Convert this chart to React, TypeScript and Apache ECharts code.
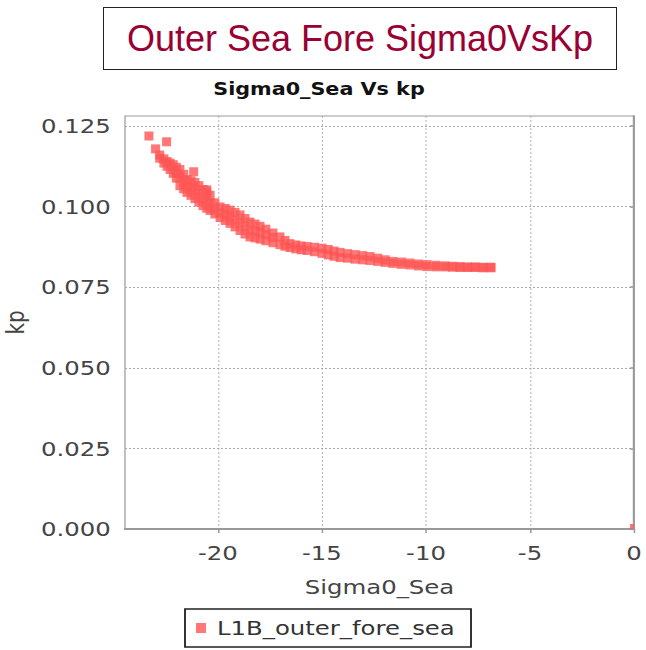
import React, { useEffect, useRef } from "react";
import * as echarts from "echarts";

const chartTitle = "Outer Sea Fore Sigma0VsKp";
const plotTitle = "Sigma0_Sea Vs kp";
const seriesName = "L1B_outer_fore_sea";
const xAxisName = "Sigma0_Sea";
const yAxisName = "kp";

const xTicks = [-20, -15, -10, -5, 0];
const yTicks = [0, 0.025, 0.05, 0.075, 0.1, 0.125];

// band columns (Sigma0_Sea) with upper / middle / lower kp rows
const bandSigma0 = [-23.0, -22.8, -22.6, -22.45, -22.3, -22.15, -22.0, -21.83, -21.65, -21.49, -21.3, -21.11, -20.92, -20.72, -20.54, -20.38, -20.15, -19.9, -19.65, -19.42, -19.18, -18.94, -18.7, -18.46, -18.22, -17.98, -17.7, -17.36, -17.02, -16.78, -16.54, -16.26, -16.0, -15.72, -15.36, -15.0, -14.7, -14.42, -14.13, -13.77, -13.41, -13.05, -12.69, -12.32, -11.96, -11.59, -11.18, -10.77, -10.36, -9.95, -9.52, -9.09, -8.73, -8.37, -8.0, -7.64, -7.26, -6.88];
const bandKpUpper = [0.1179, 0.116, 0.1148, 0.114, 0.1135, 0.113, 0.1122, 0.1115, 0.11, 0.1084, 0.108, 0.1075, 0.1065, 0.1053, 0.1045, 0.1035, 0.1012, 0.0999, 0.0994, 0.0989, 0.0982, 0.0974, 0.0963, 0.0952, 0.0946, 0.0939, 0.093, 0.0918, 0.0906, 0.0895, 0.0885, 0.0881, 0.0878, 0.0876, 0.0874, 0.0871, 0.0867, 0.0862, 0.0858, 0.0854, 0.0851, 0.0848, 0.0845, 0.084, 0.0835, 0.083, 0.0828, 0.0825, 0.0822, 0.082, 0.0818, 0.0816, 0.0815, 0.0814, 0.0813, 0.0813, 0.0812, 0.0812];
const bandKpMiddle = [null, null, null, null, null, null, 0.1105, 0.109, 0.1078, 0.1064, 0.1057, 0.105, 0.104, 0.1028, 0.102, 0.1012, 0.0994, 0.0982, 0.0975, 0.0968, 0.0959, 0.095, 0.0939, 0.0928, 0.0924, 0.092, 0.0913, 0.0904, null, null, null, null, null, null, null, null, null, null, null, null, null, null, null, null, null, null, null, null, null, null, null, null, null, null, null, null, null, null];
const bandKpLower = [null, 0.115, 0.1135, 0.1125, 0.1115, 0.1103, 0.1088, 0.1065, 0.1055, 0.1044, 0.1035, 0.1025, 0.1014, 0.1003, 0.0995, 0.0988, 0.0977, 0.0966, 0.0957, 0.0948, 0.0937, 0.0926, 0.0915, 0.0906, 0.0903, 0.0899, 0.0894, 0.0888, 0.0882, 0.0877, 0.0873, 0.0869, 0.0866, 0.0864, 0.086, 0.0855, 0.085, 0.0846, 0.0842, 0.084, 0.0837, 0.0835, 0.0833, 0.083, 0.0827, 0.0824, 0.0821, 0.0819, 0.0816, 0.0814, 0.0813, 0.0813, 0.0812, 0.0811, 0.0811, 0.0811, 0.081, 0.081];

// isolated points
const outlierSigma0 = [-23.32, -22.47, -21.17, -20.54];
const outlierKp = [0.1219, 0.1201, 0.1108, 0.1052];
// point sitting on the plot corner
const cornerSigma0 = [0];
const cornerKp = [0];

const FONT = "DejaVu Sans";
const PAGE_W = 646;
const PAGE_H = 650;
const INNER_W = 530; // chart drawn narrower, then stretched horizontally like the reference
const K = PAGE_W / INNER_W;
const sx = (v: number) => v / K;

export default function App() {
  const ref = useRef<HTMLDivElement>(null);

  useEffect(() => {
    if (!ref.current) return;
    const chart = echarts.init(ref.current, null, { renderer: "svg", width: INNER_W, height: PAGE_H });

    const data: number[][] = [];
    bandSigma0.forEach((x, i) => {
      [bandKpUpper[i], bandKpMiddle[i], bandKpLower[i]].forEach((y) => {
        if (y !== null && y !== undefined) data.push([x, y as number]);
      });
    });
    outlierSigma0.forEach((x, i) => data.push([x, outlierKp[i]]));
    const cornerData = cornerSigma0.map((x, i) => [x, cornerKp[i]]);

    chart.setOption({
      animation: false,
      backgroundColor: "#ffffff",
      textStyle: { fontFamily: FONT },
      grid: {
        left: sx(125),
        right: sx(12),
        top: 116,
        bottom: 121,
        containLabel: false,
        outerBoundsMode: "none",
        show: true,
        borderColor: "#999",
        borderWidth: 1,
        backgroundColor: "#ffffff",
      },
      graphic: [
        {
          type: "text",
          x: sx(319),
          y: 89,
          style: {
            text: plotTitle,
            fontFamily: FONT,
            fontSize: 17,
            fontWeight: "bold",
            fill: "#111",
            textAlign: "center",
            textVerticalAlign: "middle",
          },
        },
        {
          type: "rect",
          shape: { x: sx(185), y: 609, width: sx(286), height: 38 },
          style: { fill: "none", stroke: "#222", lineWidth: 1.5 },
        },
      ],
      legend: {
        data: [seriesName],
        left: sx(196),
        top: 618,
        padding: 0,
        itemWidth: sx(10),
        itemHeight: 10,
        icon: "rect",
        textStyle: { fontFamily: FONT, fontSize: 20, color: "#333", padding: [0, 0, 0, 4] },
      },
      xAxis: {
        type: "value",
        min: -24.47,
        max: 0,
        offset: 5,
        name: xAxisName,
        nameLocation: "middle",
        nameGap: 43,
        nameTextStyle: { fontFamily: FONT, fontSize: 20, color: "#444" },
        axisLine: { show: true, lineStyle: { color: "#999", width: 2 } },
        axisTick: { show: true, length: 4, customValues: xTicks, lineStyle: { color: "#999", width: sx(1.5) } },
        axisLabel: {
          customValues: xTicks,
          fontFamily: FONT,
          fontSize: 20,
          color: "#444",
          margin: 9,
          formatter: (v: number) => String(v),
        },
        splitLine: { show: true, lineStyle: { color: "#aaa", type: [2, 2], width: sx(1) } },
      },
      yAxis: {
        type: "value",
        min: 0,
        max: 0.1281,
        offset: sx(7),
        name: yAxisName,
        nameLocation: "middle",
        nameGap: 68,
        nameTextStyle: { fontFamily: FONT, fontSize: 20, color: "#444" },
        axisLine: { show: true, lineStyle: { color: "#999", width: sx(2) } },
        axisTick: { show: true, length: sx(4), customValues: yTicks, lineStyle: { color: "#999", width: 1.5 } },
        axisLabel: {
          customValues: yTicks,
          fontFamily: FONT,
          fontSize: 20,
          color: "#444",
          margin: 6,
          formatter: (v: number) => v.toFixed(3),
        },
        splitLine: { show: true, lineStyle: { color: "#aaa", type: [sx(2), sx(2)], width: 1 } },
      },
      series: [
        {
          name: seriesName,
          type: "scatter",
          symbol: "rect",
          symbolSize: [sx(9), 9],
          clip: true,
          itemStyle: { color: "#ff5555" },
          data,
        },
        {
          name: seriesName,
          type: "scatter",
          symbol: "rect",
          symbolSize: [sx(4), 5],
          symbolOffset: [-sx(2), -2.5],
          clip: false,
          itemStyle: { color: "#ff5555" },
          data: cornerData,
        },
      ],
    });

    return () => chart.dispose();
  }, []);

  return (
    <div style={{ position: "fixed", left: 0, top: 0, width: PAGE_W, height: PAGE_H, background: "#fff", overflow: "hidden" }}>
      <div
        ref={ref}
        style={{
          position: "absolute",
          left: 0,
          top: 0,
          width: INNER_W,
          height: PAGE_H,
          transform: `scaleX(${K})`,
          transformOrigin: "0 0",
        }}
      />
      <div
        style={{
          position: "absolute",
          left: 103,
          top: 7,
          width: 514,
          height: 63,
          boxSizing: "border-box",
          border: "1.5px solid #222",
          background: "#fff",
          display: "flex",
          alignItems: "center",
          justifyContent: "center",
          fontFamily: "'Liberation Sans', Arial, sans-serif",
          fontSize: 36,
          color: "#990033",
        }}
      >
        {chartTitle}
      </div>
    </div>
  );
}
